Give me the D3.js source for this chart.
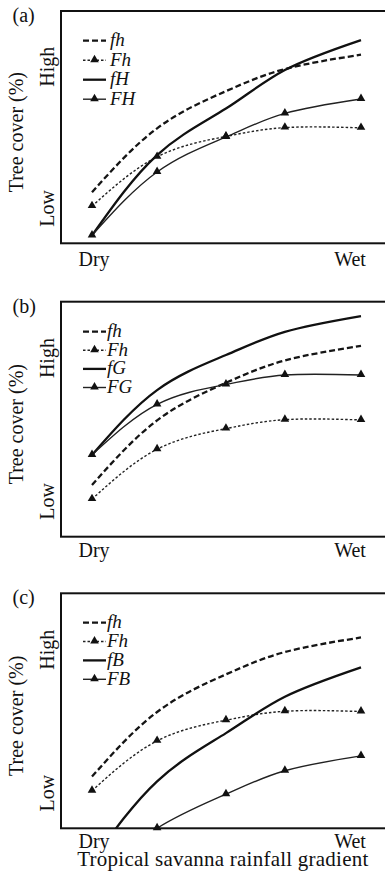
<!DOCTYPE html>
<html>
<head>
<meta charset="utf-8">
<script src="https://cdn.jsdelivr.net/npm/d3@7"></script>
<style>
  html, body { margin: 0; padding: 0; background: #fff; }
  svg { display: block; }
  text { font-family: "Liberation Serif", "Times New Roman", serif; fill: #111; }
</style>
</head>
<body>
<svg id="chart" width="385" height="877"></svg>
<script>
// Position along the rainfall gradient (0 = dry end, 1 = wet end)
const gradient = [0, 0.242, 0.498, 0.717, 1];

// Tree cover (relative units, 0 = axis floor, 100 = frame top)
const fh = [22, 49.5, 65.5, 75, 81.2];   // low fire, low herbivory (baseline in every panel)
const Fh = [16, 37.2, 46, 49.8, 49.7];   // high fire, low herbivory

// (a) herbivory
const fH = [3.4, 38, 58, 74.6, 87.5];
const FH = [3.4, 30.7, 45.8, 55.9, 62.1];

// (b) grazing
const fG = [34.8, 62.4, 77.3, 87.2, 93.9];
const FG = [34.8, 56.3, 64.8, 68.8, 68.8];

// (c) browsing
const fB = [-14, 20, 40.5, 56, 68.5];
const FB = [-22, 0, 14.5, 24.5, 30.8];

const panelTags = ["(a)", "(b)", "(c)"];
const xTickLabels = ["Dry", "Wet"];
const yTickLabels = ["Low", "High"];
const yTickValues = [15, 76];
const yTitle = "Tree cover (%)";
const xTitle = "Tropical savanna rainfall gradient";

// line styles for the four treatment types
const styles = {
  fDash:  { width: 2.3, dash: "6,3", marker: false, color: "#151515" },
  FDot:   { width: 1.4, dash: "2.5,2", marker: true, color: "#222" },
  fSolid: { width: 2.3, dash: null, marker: false, color: "#111" },
  FSolid: { width: 1.4, dash: null, marker: true, color: "#222" }
};

const panels = [
  { tag: panelTags[0], top: 11, bottom: 243.3, tickBase: 266, legendTop: 29.7, legendStep: 19.5, legendTextX: 110,
    series: [
      { name: "fh", values: fh, style: "fDash" },
      { name: "Fh", values: Fh, style: "FDot" },
      { name: "fH", values: fH, style: "fSolid" },
      { name: "FH", values: FH, style: "FSolid" }
    ] },
  { tag: panelTags[1], top: 301.7, bottom: 536.7, tickBase: 557, legendTop: 30, legendStep: 18.6, legendTextX: 107,
    series: [
      { name: "fh", values: fh, style: "fDash" },
      { name: "Fh", values: Fh, style: "FDot" },
      { name: "fG", values: fG, style: "fSolid" },
      { name: "FG", values: FG, style: "FSolid" }
    ] },
  { tag: panelTags[2], top: 593.3, bottom: 828.3, tickBase: 847.5, legendTop: 29.3, legendStep: 18.9, legendTextX: 107,
    series: [
      { name: "fh", values: fh, style: "fDash" },
      { name: "Fh", values: Fh, style: "FDot" },
      { name: "fB", values: fB, style: "fSolid" },
      { name: "FB", values: FB, style: "FSolid" }
    ] }
];

const svg = d3.select("#chart");
const left = 61, right = 392;
const x = d3.scaleLinear().domain([0, 1]).range([92, 361]);
const tri = d3.symbol().type(d3.symbolTriangle).size(32);

panels.forEach((p, i) => {
  const y = d3.scaleLinear().domain([0, 100]).range([p.bottom, p.top]);
  const g = svg.append("g");

  // clip regions: lines stay inside the frame, markers may sit on the floor
  const clipId = "clip" + i, clipMk = "clipm" + i;
  const defs = g.append("defs");
  defs.append("clipPath").attr("id", clipId).append("rect")
    .attr("x", left).attr("y", p.top).attr("width", right - left).attr("height", p.bottom - p.top);
  defs.append("clipPath").attr("id", clipMk).append("rect")
    .attr("x", left).attr("y", p.top).attr("width", right - left).attr("height", p.bottom - p.top + 6);

  const line = d3.line()
    .x((d, k) => x(gradient[k]))
    .y(d => y(d))
    .curve(d3.curveNatural);

  const plot = g.append("g").attr("clip-path", `url(#${clipId})`);
  const marks = g.append("g").attr("clip-path", `url(#${clipMk})`);

  p.series.forEach(s => {
    const st = styles[s.style];
    plot.append("path")
      .attr("d", line(s.values))
      .attr("fill", "none")
      .attr("stroke", st.color)
      .attr("stroke-width", st.width)
      .attr("stroke-dasharray", st.dash);
    if (st.marker) {
      marks.selectAll(null).data(s.values).enter().append("path")
        .attr("d", tri)
        .attr("transform", (d, k) => `translate(${x(gradient[k])},${y(d) - 0.5})`)
        .attr("fill", "#111");
    }
  });

  // frame
  g.append("rect")
    .attr("x", left).attr("y", p.top)
    .attr("width", right - left).attr("height", p.bottom - p.top)
    .attr("fill", "none").attr("stroke", "#111").attr("stroke-width", 2);

  // legend
  const lg = g.append("g");
  p.series.forEach((s, k) => {
    const st = styles[s.style];
    const cy = p.top + p.legendTop + k * p.legendStep;
    lg.append("line")
      .attr("x1", 83).attr("x2", 106).attr("y1", cy).attr("y2", cy)
      .attr("stroke", st.color).attr("stroke-width", st.width)
      .attr("stroke-dasharray", st.dash);
    if (st.marker) {
      lg.append("path").attr("d", tri)
        .attr("transform", `translate(94.5,${cy - 0.5})`).attr("fill", "#111");
    }
    lg.append("text")
      .attr("x", p.legendTextX).attr("y", cy + 5.5)
      .attr("font-size", 19).attr("font-style", "italic")
      .text(s.name);
  });

  // x end labels
  const xLab = [x(0) + 2, x(1) - 11];
  xTickLabels.forEach((t, k) => {
    g.append("text").attr("x", xLab[k]).attr("y", p.tickBase)
      .attr("text-anchor", "middle").attr("font-size", 20).text(t);
  });

  // y level labels (rotated)
  yTickLabels.forEach((t, k) => {
    const cy = y(yTickValues[k]);
    g.append("text")
      .attr("transform", `translate(54,${cy}) rotate(-90)`)
      .attr("text-anchor", "middle").attr("font-size", 20).text(t);
  });

  // y title
  g.append("text")
    .attr("transform", `translate(23,${(p.top + p.bottom) / 2 + 5}) rotate(-90)`)
    .attr("text-anchor", "middle").attr("font-size", 20).text(yTitle);

  // panel tag
  g.append("text").attr("x", 12.5).attr("y", p.top + 11)
    .attr("font-size", 20).text(p.tag);
});

svg.append("text")
  .attr("x", 222.8).attr("y", 866)
  .attr("text-anchor", "middle").attr("font-size", 21)
  .attr("textLength", 291).attr("lengthAdjust", "spacing")
  .text(xTitle);
</script>
</body>
</html>
